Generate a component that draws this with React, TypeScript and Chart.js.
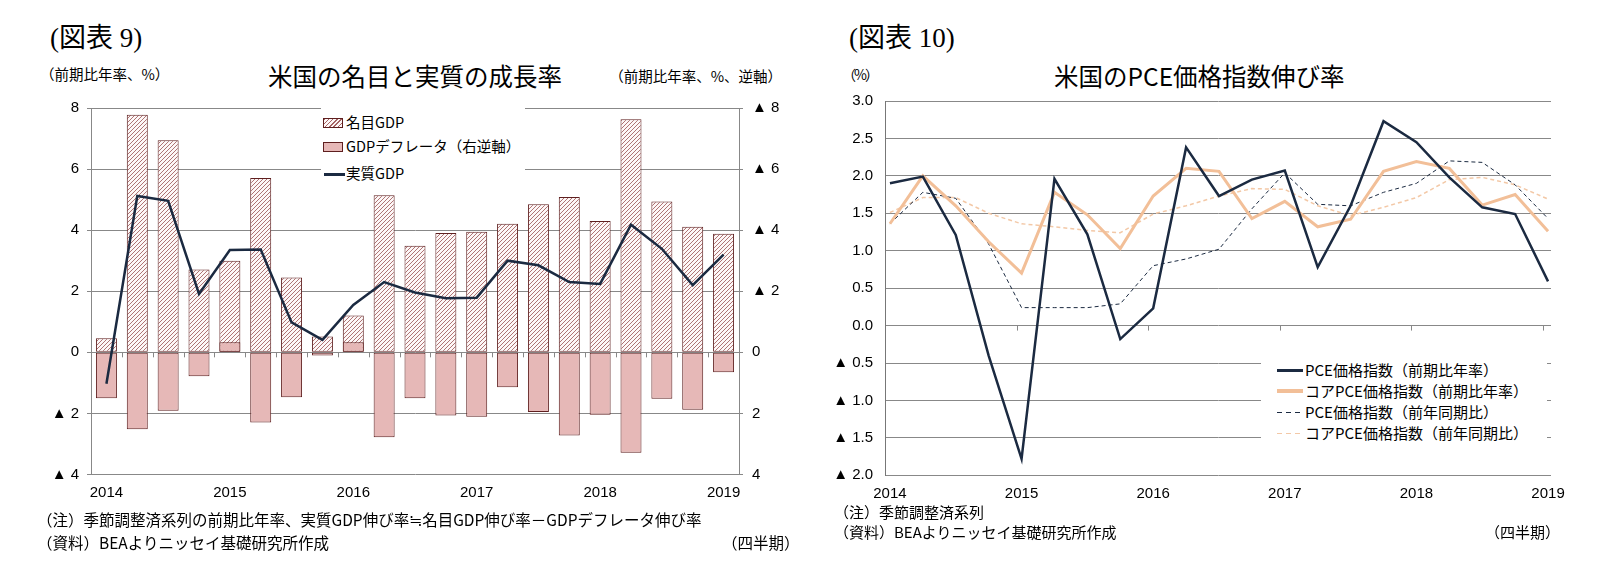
import React, { useEffect, useRef } from 'react';
import Chart from 'chart.js/auto';

// ---------- data ----------
const quarters = [
  '2014Q1', '2014Q2', '2014Q3', '2014Q4',
  '2015Q1', '2015Q2', '2015Q3', '2015Q4',
  '2016Q1', '2016Q2', '2016Q3', '2016Q4',
  '2017Q1', '2017Q2', '2017Q3', '2017Q4',
  '2018Q1', '2018Q2', '2018Q3', '2018Q4',
  '2019Q1',
];
const yearLabels = ['2014', '2015', '2016', '2017', '2018', '2019'];

// 図表9
const nominalGDP = [0.46, 7.78, 6.94, 2.71, 3.0, 5.71, 2.45, 0.52, 1.21, 5.14, 3.49, 3.91, 3.95, 4.21, 4.85, 5.09, 4.3, 7.63, 4.94, 4.11, 3.88];
const gdpDeflator = [1.5, 2.52, 1.91, 0.78, -0.33, 2.3, 1.47, 0.1, -0.33, 2.78, 1.5, 2.07, 2.11, 1.14, 1.95, 2.72, 2.04, 3.29, 1.52, 1.88, 0.65];
const realGDP = [-1.03, 5.12, 4.96, 1.91, 3.35, 3.37, 0.98, 0.41, 1.55, 2.3, 1.96, 1.77, 1.79, 3.0, 2.85, 2.3, 2.24, 4.18, 3.39, 2.2, 3.2];

// 図表10
const pceQoQ = [1.9, 1.99, 1.21, -0.4, -1.78, 1.96, 1.22, -0.18, 0.23, 2.38, 1.73, 1.95, 2.07, 0.78, 1.6, 2.73, 2.45, 1.98, 1.58, 1.49, 0.59];
const corePceQoQ = [1.36, 2.0, 1.6, 1.12, 0.7, 1.78, 1.48, 1.03, 1.73, 2.1, 2.06, 1.43, 1.66, 1.32, 1.42, 2.06, 2.19, 2.1, 1.61, 1.75, 1.26];
const pceYoY = [1.36, 1.78, 1.7, 1.09, 0.24, 0.24, 0.24, 0.29, 0.8, 0.89, 1.02, 1.56, 2.04, 1.62, 1.6, 1.78, 1.9, 2.2, 2.18, 1.88, 1.43];
const corePceYoY = [1.51, 1.71, 1.71, 1.5, 1.36, 1.32, 1.27, 1.24, 1.49, 1.6, 1.73, 1.83, 1.82, 1.6, 1.47, 1.58, 1.71, 1.95, 1.98, 1.88, 1.69];

// ---------- styles ----------
const NAVY = '#1b2a41';
const PEACH = '#f2bf98';
const PEACH_L = '#f3c8a6';
const PINK = '#e6b8b7';
const BAR_EDGE = '#5e1f1f';
const HATCH_LINE = '#a56464';
const HATCH_BG = '#fdf7f7';
const GRID = '#888888';
const JP = '"Noto Sans CJK JP", sans-serif';
const TICK_FONT = { family: '"Liberation Sans", "Noto Sans CJK JP", sans-serif', size: 15 };
const RIGHT_X_MIN = -0.15;
const RIGHT_X_MAX = 20.09;

const tri = (v: number, digits: number) =>
  v < 0 ? '▲ ' + (-v).toFixed(digits) : v.toFixed(digits);

function makeHatch(): CanvasPattern | string {
  const c = document.createElement('canvas');
  c.width = 4;
  c.height = 4;
  const g = c.getContext('2d');
  if (!g) return '#d9b0b0';
  g.fillStyle = HATCH_BG;
  g.fillRect(0, 0, 4, 4);
  g.strokeStyle = HATCH_LINE;
  g.lineWidth = 0.9;
  g.beginPath();
  g.moveTo(0, 4); g.lineTo(4, 0);
  g.moveTo(-1, 1); g.lineTo(1, -1);
  g.moveTo(3, 5); g.lineTo(5, 3);
  g.stroke();
  return g.createPattern(c, 'repeat') || '#d9b0b0';
}

// short tick marks hanging below the zero line
const zeroTicks = {
  id: 'zeroTicks',
  afterDatasetsDraw(chart: any, _args: any, opts: any) {
    const xs = chart.scales.x;
    const ys = chart.scales[opts.yId || 'y'];
    const y0 = ys.getPixelForValue(0);
    const ctx = chart.ctx;
    ctx.save();
    ctx.strokeStyle = GRID;
    ctx.lineWidth = 1;
    ctx.beginPath();
    for (const v of opts.values || []) {
      const px = Math.round(xs.getPixelForValue(v)) + 0.5;
      ctx.moveTo(px, y0);
      ctx.lineTo(px, y0 + 5);
    }
    ctx.stroke();
    ctx.restore();
  },
};

type TProps = {
  left?: number; right?: number; cy: number; size: number;
  family?: string; children: React.ReactNode; spacing?: number;
};
function T({ left, right, cy, size, family, children, spacing }: TProps) {
  const style: React.CSSProperties = {
    position: 'absolute',
    top: cy - size * 0.56,
    fontSize: size,
    lineHeight: 1,
    fontFamily: family || JP,
    whiteSpace: 'nowrap',
    color: '#000',
    letterSpacing: spacing,
  };
  if (left !== undefined) style.left = left;
  if (right !== undefined) style.right = 1616 - right;
  return <div style={style}>{children}</div>;
}

export default function App() {
  const leftRef = useRef<HTMLCanvasElement | null>(null);
  const rightRef = useRef<HTMLCanvasElement | null>(null);

  useEffect(() => {
    if (!leftRef.current || !rightRef.current) return;
    const hatch = makeHatch();

    const left = new Chart(leftRef.current, {
      type: 'bar',
      data: {
        labels: quarters,
        datasets: [
          {
            type: 'line', label: '実質GDP', data: realGDP, yAxisID: 'y',
            borderColor: NAVY, borderWidth: 2.5, pointRadius: 0, tension: 0, order: 1,
          } as any,
          {
            type: 'bar', label: 'GDPデフレータ（右逆軸）', data: gdpDeflator, yAxisID: 'y1',
            backgroundColor: PINK, borderColor: BAR_EDGE, borderWidth: 1, borderSkipped: false,
            grouped: false, barPercentage: 0.68, categoryPercentage: 1, order: 2,
          } as any,
          {
            type: 'bar', label: '名目GDP', data: nominalGDP, yAxisID: 'y',
            backgroundColor: hatch, borderColor: BAR_EDGE, borderWidth: 1, borderSkipped: false,
            grouped: false, barPercentage: 0.68, categoryPercentage: 1, order: 3,
          } as any,
        ],
      },
      options: {
        animation: false,
        responsive: true,
        maintainAspectRatio: false,
        layout: { padding: { top: 12.5, left: 0, right: 0, bottom: 0 } },
        plugins: {
          legend: { display: false },
          tooltip: { enabled: false },
          zeroTicks: { yId: 'y', values: quarters.slice(1).map((_, i) => i + 0.5) },
        } as any,
        scales: {
          x: {
            grid: { display: false, drawTicks: false },
            border: { display: false },
            ticks: {
              autoSkip: false, maxRotation: 0, minRotation: 0, padding: 9,
              font: TICK_FONT, color: '#000',
              callback: (_v: any, i: number) => (i % 4 === 0 ? yearLabels[i / 4] : ''),
            },
            afterFit: (s: any) => { s.height = 35.5; },
          },
          y: {
            position: 'left', min: -4, max: 8,
            ticks: { stepSize: 2, padding: 8, font: TICK_FONT, color: '#000', callback: (v: any) => tri(Number(v), 0) },
            grid: { color: GRID, tickLength: 4 },
            border: { color: GRID },
            afterFit: (s: any) => { s.width = 71; },
          },
          y1: {
            position: 'right', min: -8, max: 4, reverse: true,
            ticks: { stepSize: 2, padding: 9, font: TICK_FONT, color: '#000', callback: (v: any) => tri(Number(v), 0) },
            grid: { drawOnChartArea: false, color: GRID, tickLength: 4 },
            border: { color: GRID },
            afterFit: (s: any) => { s.width = 61; },
          },
        } as any,
      },
      plugins: [zeroTicks as any],
    });

    const pts = (arr: number[]) => arr.map((v, i) => ({ x: i, y: v }));
    const right = new Chart(rightRef.current, {
      type: 'line',
      data: {
        datasets: [
          { label: 'PCE価格指数（前期比年率）', data: pts(pceQoQ), borderColor: NAVY, borderWidth: 2.5, order: 1 },
          { label: 'コアPCE価格指数（前期比年率）', data: pts(corePceQoQ), borderColor: PEACH, borderWidth: 3, order: 2 },
          { label: 'PCE価格指数（前年同期比）', data: pts(pceYoY), borderColor: NAVY, borderWidth: 1, borderDash: [4, 3], order: 3 },
          { label: 'コアPCE価格指数（前年同期比）', data: pts(corePceYoY), borderColor: PEACH_L, borderWidth: 1.5, borderDash: [4, 3], order: 4 },
        ] as any,
      },
      options: {
        animation: false,
        responsive: true,
        maintainAspectRatio: false,
        elements: { point: { radius: 0 }, line: { tension: 0 } },
        layout: { padding: { top: 12.8, left: 0, right: 65, bottom: 0 } },
        plugins: {
          legend: { display: false },
          tooltip: { enabled: false },
          zeroTicks: { yId: 'y', values: [1, 2, 3, 4, 5].map((k) => RIGHT_X_MIN + 4 * k) },
        } as any,
        scales: {
          x: {
            type: 'linear', min: RIGHT_X_MIN, max: RIGHT_X_MAX,
            afterBuildTicks: (s: any) => { s.ticks = yearLabels.map((_, k) => ({ value: k * 4 })); },
            grid: { display: false, drawTicks: false },
            border: { display: false },
            ticks: {
              autoSkip: false, maxRotation: 0, minRotation: 0, padding: 10,
              font: TICK_FONT, color: '#000',
              callback: (v: any) => yearLabels[Math.round(Number(v) / 4)],
            },
            afterFit: (s: any) => { s.height = 34.7; },
          },
          y: {
            min: -2, max: 3,
            ticks: { stepSize: 0.5, padding: 12, font: TICK_FONT, color: '#000', callback: (v: any) => tri(Number(v), 1) },
            grid: { color: GRID, drawTicks: false },
            border: { color: '#777777' },
            afterFit: (s: any) => { s.width = 85; },
          },
        } as any,
      },
      plugins: [zeroTicks as any],
    });

    return () => {
      left.destroy();
      right.destroy();
    };
  }, []);

  const sw = (s: React.CSSProperties): React.CSSProperties => ({ position: 'absolute', boxSizing: 'border-box', ...s });

  return (
    <div style={{ position: 'absolute', left: 0, top: 0, width: 1616, height: 577, background: '#fff', overflow: 'hidden' }}>
      {/* ---------- 図表9 ---------- */}
      <T left={50} cy={40} size={27} family={'"Liberation Serif", "Noto Sans CJK JP", serif'}>(図表 9)</T>
      <T left={40} cy={75} size={14.5}>（前期比年率、%）</T>
      <T left={268} cy={78} size={24.5}>米国の名目と実質の成長率</T>
      <T right={782} cy={77} size={14.5}>（前期比年率、%、逆軸）</T>
      <div style={{ position: 'absolute', left: 20, top: 90, width: 780, height: 420 }}>
        <canvas ref={leftRef} />
      </div>
      {/* legend */}
      <div style={sw({ left: 321, top: 108, width: 204, height: 82, background: '#fff' })} />
      <div style={sw({ left: 323, top: 118, width: 20, height: 10, border: `1px solid ${BAR_EDGE}`, background: `repeating-linear-gradient(135deg, ${HATCH_LINE} 0 1px, ${HATCH_BG} 1px 3px)` })} />
      <T left={346} cy={123} size={14.5}>名目GDP</T>
      <div style={sw({ left: 323, top: 142, width: 20, height: 10, border: `1px solid ${BAR_EDGE}`, background: PINK })} />
      <T left={346} cy={147} size={14.5}>GDPデフレータ（右逆軸）</T>
      <div style={sw({ left: 324, top: 172.5, width: 21, height: 3, background: NAVY })} />
      <T left={346} cy={174} size={14.5}>実質GDP</T>
      <T left={37} cy={521} size={15.5}>（注）季節調整済系列の前期比年率、実質GDP伸び率≒名目GDP伸び率－GDPデフレータ伸び率</T>
      <T left={37} cy={544} size={15.5}>（資料）BEAよりニッセイ基礎研究所作成</T>
      <T left={722} cy={544} size={15.5}>（四半期）</T>

      {/* ---------- 図表10 ---------- */}
      <T left={849} cy={40} size={27} family={'"Liberation Serif", "Noto Sans CJK JP", serif'}>(図表 10)</T>
      <T left={842} cy={75} size={14} spacing={-2}>（%）</T>
      <T left={1054} cy={78} size={24.5}>米国のPCE価格指数伸び率</T>
      <div style={{ position: 'absolute', left: 800, top: 80, width: 816, height: 430 }}>
        <canvas ref={rightRef} />
      </div>
      {/* legend */}
      <div style={sw({ left: 1261, top: 352, width: 286, height: 93, background: '#fff' })} />
      <div style={sw({ left: 1277, top: 368.5, width: 26, height: 3, background: NAVY })} />
      <T left={1305} cy={370} size={15}>PCE価格指数（前期比年率）</T>
      <div style={sw({ left: 1277, top: 389, width: 26, height: 4, background: PEACH })} />
      <T left={1305} cy={391} size={15}>コアPCE価格指数（前期比年率）</T>
      <div style={sw({ left: 1277, top: 411.5, width: 26, height: 1, background: `repeating-linear-gradient(90deg, ${NAVY} 0 5px, transparent 5px 9px)` })} />
      <T left={1305} cy={412} size={15}>PCE価格指数（前年同期比）</T>
      <div style={sw({ left: 1277, top: 432.5, width: 26, height: 1.5, background: `repeating-linear-gradient(90deg, ${PEACH_L} 0 5px, transparent 5px 9px)` })} />
      <T left={1305} cy={433} size={15}>コアPCE価格指数（前年同期比）</T>
      <T left={834} cy={512} size={15}>（注）季節調整済系列</T>
      <T left={834} cy={532} size={15}>（資料）BEAよりニッセイ基礎研究所作成</T>
      <T right={1560} cy={532} size={15}>（四半期）</T>
    </div>
  );
}
